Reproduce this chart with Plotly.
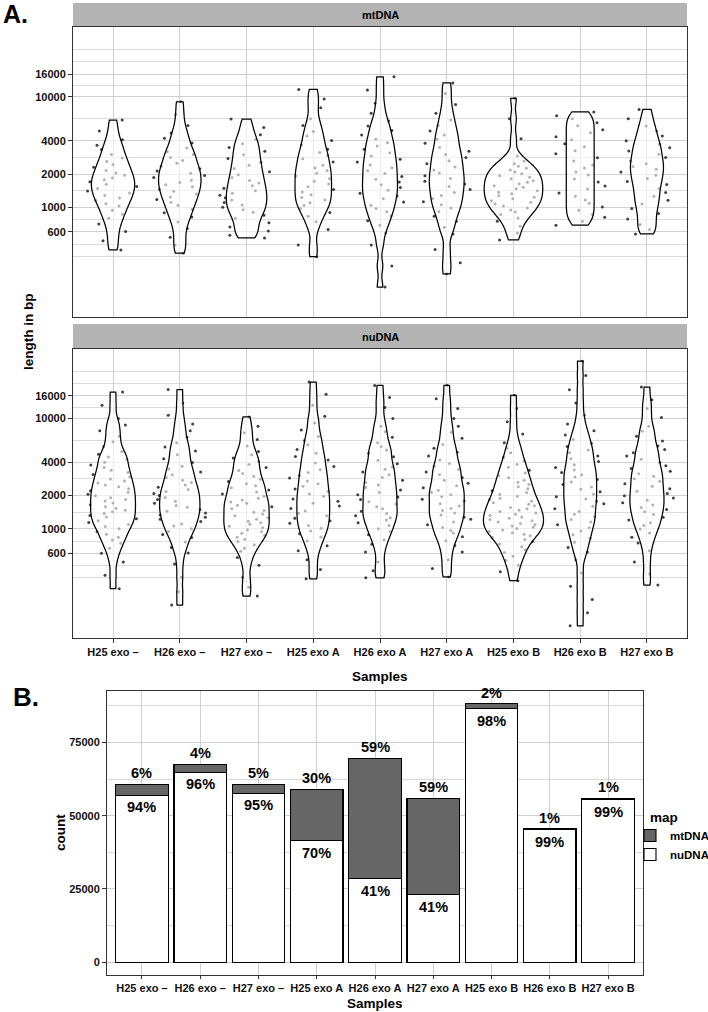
import numpy as np
import plotly.graph_objects as go

W, H = 708, 1012
FONT = "Liberation Sans, Arial, Helvetica, sans-serif"

samples = ["H25 exo –", "H26 exo –", "H27 exo –", "H25 exo A", "H26 exo A",
           "H27 exo A", "H25 exo B", "H26 exo B", "H27 exo B"]

# ---- fragment lengths, log10(bp) (mtDNA panel) ----
mt_H25_minus = [3.789, 3.69, 3.612, 3.561, 3.523, 3.478, 3.446, 3.414, 3.388, 3.362, 3.334, 3.31, 3.291,
                3.268, 3.249, 3.231, 3.209, 3.19, 3.172, 3.149, 3.131, 3.108, 3.086, 3.062, 3.034, 3.012,
                2.974, 2.938, 2.902, 2.851, 2.782, 2.70, 2.616]
mt_H26_minus = [3.954, 3.84, 3.74, 3.672, 3.624, 3.581, 3.536, 3.503, 3.478, 3.452, 3.424, 3.398, 3.371,
                3.349, 3.328, 3.309, 3.288, 3.27, 3.246, 3.226, 3.204, 3.186, 3.165, 3.146, 3.121, 3.094,
                3.071, 3.046, 3.019, 2.984, 2.951, 2.914, 2.868, 2.81, 2.73, 2.66, 2.588]
mt_H27_minus = [3.798, 3.722, 3.656, 3.614, 3.576, 3.541, 3.508, 3.476, 3.441, 3.409, 3.382, 3.351, 3.322,
                3.296, 3.271, 3.244, 3.221, 3.196, 3.174, 3.151, 3.129, 3.109, 3.088, 3.066, 3.044, 3.021,
                3.001, 2.979, 2.956, 2.929, 2.902, 2.861, 2.823, 2.786, 2.748, 2.724]
mt_H25_A = [4.066, 3.98, 3.90, 3.80, 3.74, 3.685, 3.645, 3.605, 3.565, 3.525, 3.497, 3.468, 3.44, 3.41,
            3.382, 3.357, 3.333, 3.308, 3.284, 3.26, 3.236, 3.211, 3.187, 3.163, 3.139, 3.114, 3.09,
            3.066, 3.042, 3.018, 2.99, 2.955, 2.92, 2.87, 2.80, 2.66, 2.555]
mt_H26_A = [4.18, 4.06, 3.94, 3.85, 3.78, 3.735, 3.695, 3.655, 3.615, 3.585, 3.555, 3.525, 3.495, 3.465,
            3.435, 3.41, 3.384, 3.358, 3.332, 3.306, 3.28, 3.254, 3.229, 3.204, 3.179, 3.154, 3.129,
            3.104, 3.078, 3.05, 3.02, 2.99, 2.96, 2.925, 2.88, 2.84, 2.77, 2.66, 2.47, 2.28]
mt_H27_A = [4.125, 4.03, 3.93, 3.85, 3.79, 3.74, 3.69, 3.655, 3.617, 3.58, 3.542, 3.508, 3.479, 3.45,
            3.422, 3.394, 3.366, 3.338, 3.312, 3.287, 3.262, 3.237, 3.212, 3.188, 3.162, 3.135, 3.108,
            3.08, 3.052, 3.024, 2.995, 2.96, 2.92, 2.875, 2.82, 2.76, 2.62, 2.50, 2.40]
mt_H25_B = [3.985, 3.80, 3.62, 3.465, 3.42, 3.395, 3.372, 3.355, 3.338, 3.321, 3.304, 3.287, 3.272,
            3.258, 3.241, 3.227, 3.213, 3.196, 3.182, 3.168, 3.151, 3.137, 3.123, 3.106, 3.092, 3.078,
            3.061, 3.047, 3.03, 3.013, 2.995, 2.977, 2.959, 2.935, 2.905, 2.875, 2.83, 2.77, 2.706]
mt_H26_B = [3.863, 3.829, 3.801, 3.766, 3.738, 3.702, 3.674, 3.639, 3.611, 3.575, 3.547, 3.511, 3.484,
            3.448, 3.42, 3.384, 3.357, 3.321, 3.293, 3.257, 3.229, 3.193, 3.166, 3.13, 3.102, 3.066,
            3.038, 3.003, 2.975, 2.939, 2.911, 2.875, 2.84]
mt_H27_B = [3.885, 3.80, 3.735, 3.69, 3.645, 3.603, 3.57, 3.54, 3.51, 3.48, 3.45, 3.42, 3.395, 3.37,
            3.345, 3.32, 3.29, 3.262, 3.234, 3.206, 3.17, 3.135, 3.10, 3.065, 3.03, 2.99, 2.945, 2.895,
            2.845, 2.80, 2.76]

# ---- fragment lengths, log10(bp) (nuDNA panel) ----
nu_H25_minus = [4.24, 4.12, 4.00, 3.94, 3.89, 3.84, 3.79, 3.745, 3.70, 3.675, 3.652, 3.628, 3.604, 3.579,
                3.556, 3.531, 3.511, 3.492, 3.471, 3.452, 3.434, 3.415, 3.396, 3.381, 3.364, 3.346, 3.331,
                3.314, 3.299, 3.281, 3.266, 3.251, 3.234, 3.219, 3.201, 3.186, 3.169, 3.154, 3.139, 3.121,
                3.106, 3.091, 3.072, 3.056, 3.039, 3.021, 3.001, 2.976, 2.951, 2.924, 2.899, 2.868, 2.824,
                2.779, 2.70, 2.58, 2.457]
nu_H26_minus = [4.262, 4.14, 4.03, 3.95, 3.89, 3.83, 3.78, 3.741, 3.706, 3.671, 3.634, 3.601, 3.566, 3.541,
                3.516, 3.489, 3.466, 3.441, 3.419, 3.396, 3.376, 3.356, 3.339, 3.321, 3.301, 3.284, 3.266,
                3.249, 3.231, 3.211, 3.196, 3.176, 3.159, 3.144, 3.126, 3.104, 3.086, 3.066, 3.044, 3.026,
                3.001, 2.976, 2.949, 2.921, 2.881, 2.831, 2.781, 2.68, 2.56, 2.43, 2.309]
nu_H27_minus = [4.014, 3.93, 3.87, 3.81, 3.75, 3.70, 3.672, 3.641, 3.609, 3.584, 3.556, 3.529, 3.501,
                3.476, 3.449, 3.429, 3.409, 3.391, 3.371, 3.351, 3.334, 3.316, 3.294, 3.276, 3.261, 3.244,
                3.231, 3.214, 3.199, 3.181, 3.166, 3.151, 3.134, 3.119, 3.101, 3.086, 3.069, 3.054, 3.041,
                3.024, 3.009, 2.991, 2.974, 2.959, 2.941, 2.924, 2.906, 2.884, 2.856, 2.824, 2.796, 2.74,
                2.67, 2.56, 2.47, 2.39]
nu_H25_A = [4.33, 4.22, 4.12, 4.02, 3.96, 3.895, 3.84, 3.80, 3.761, 3.72, 3.686, 3.655, 3.624, 3.596,
            3.564, 3.536, 3.511, 3.484, 3.461, 3.434, 3.409, 3.386, 3.361, 3.339, 3.316, 3.294, 3.271,
            3.249, 3.231, 3.206, 3.184, 3.161, 3.141, 3.119, 3.096, 3.074, 3.051, 3.031, 3.004, 2.979,
            2.954, 2.926, 2.889, 2.846, 2.801, 2.72, 2.63, 2.547]
nu_H26_A = [4.30, 4.19, 4.10, 4.00, 3.93, 3.88, 3.83, 3.78, 3.745, 3.714, 3.686, 3.654, 3.621, 3.589,
            3.561, 3.539, 3.516, 3.491, 3.466, 3.441, 3.419, 3.396, 3.374, 3.351, 3.329, 3.309, 3.289,
            3.266, 3.246, 3.224, 3.201, 3.181, 3.159, 3.139, 3.119, 3.101, 3.079, 3.054, 3.029, 3.001,
            2.974, 2.946, 2.901, 2.859, 2.79, 2.70, 2.62, 2.556]
nu_H27_A = [4.30, 4.18, 4.09, 4.00, 3.93, 3.875, 3.82, 3.765, 3.731, 3.694, 3.661, 3.624, 3.591, 3.566,
            3.539, 3.516, 3.489, 3.466, 3.441, 3.414, 3.391, 3.371, 3.349, 3.331, 3.309, 3.291, 3.269,
            3.251, 3.226, 3.206, 3.184, 3.166, 3.144, 3.126, 3.104, 3.086, 3.061, 3.036, 3.011, 2.984,
            2.961, 2.929, 2.891, 2.849, 2.79, 2.72, 2.64, 2.565]
nu_H25_B = [4.21, 4.09, 3.97, 3.86, 3.78, 3.73, 3.69, 3.648, 3.614, 3.586, 3.559, 3.531, 3.506, 3.484,
            3.462, 3.441, 3.421, 3.401, 3.381, 3.363, 3.346, 3.329, 3.311, 3.294, 3.278, 3.263, 3.249,
            3.236, 3.222, 3.208, 3.194, 3.181, 3.168, 3.156, 3.144, 3.132, 3.12, 3.108, 3.096, 3.085,
            3.073, 3.061, 3.049, 3.038, 3.026, 3.014, 3.002, 2.99, 2.978, 2.965, 2.951, 2.936, 2.92,
            2.903, 2.884, 2.862, 2.838, 2.811, 2.784, 2.752, 2.715, 2.67, 2.61, 2.53]
nu_H26_B = [4.52, 4.39, 4.26, 4.14, 4.03, 3.95, 3.89, 3.85, 3.81, 3.775, 3.745, 3.715, 3.689, 3.661,
            3.634, 3.609, 3.581, 3.556, 3.534, 3.511, 3.489, 3.469, 3.446, 3.424, 3.401, 3.379, 3.359,
            3.336, 3.314, 3.291, 3.271, 3.249, 3.226, 3.204, 3.181, 3.156, 3.131, 3.109, 3.084, 3.061,
            3.036, 3.009, 2.979, 2.946, 2.914, 2.879, 2.831, 2.789, 2.72, 2.60, 2.48, 2.36, 2.24, 2.12]
nu_H27_B = [4.285, 4.17, 4.09, 4.01, 3.93, 3.885, 3.84, 3.795, 3.75, 3.72, 3.69, 3.66, 3.63, 3.60, 3.571,
            3.546, 3.521, 3.499, 3.476, 3.454, 3.431, 3.409, 3.386, 3.364, 3.341, 3.321, 3.299, 3.279,
            3.259, 3.236, 3.216, 3.194, 3.174, 3.154, 3.129, 3.104, 3.079, 3.054, 3.029, 2.999, 2.961,
            2.924, 2.871, 2.80, 2.70, 2.59, 2.49]

# ---- read counts per sample (panel B) ----
nu_counts = [57060, 64800, 57700, 41400, 28500, 23000, 86500, 45150, 55450]
mt_counts = [3640, 2700, 3000, 17700, 41100, 32900, 1800, 450, 550]

y_ticks_bp = [600, 1000, 2000, 4000, 10000, 16000]
count_ticks = [0, 25000, 50000, 75000]

mt_groups = [mt_H25_minus, mt_H26_minus, mt_H27_minus, mt_H25_A, mt_H26_A, mt_H27_A,
             mt_H25_B, mt_H26_B, mt_H27_B]
nu_groups = [nu_H25_minus, nu_H26_minus, nu_H27_minus, nu_H25_A, nu_H26_A, nu_H27_A,
             nu_H25_B, nu_H26_B, nu_H27_B]

# ---------------- styling ----------------
def fx(p):
    return p / W

def fy(p):
    return 1 - p / H

BORDER = "#333333"
GRID = "#cfcfcf"
GRID_MINOR = "#dadada"
STRIP = "#b3b3b3"
MT_FILL = "#666666"
BANDWIDTH = {"mt": 0.065, "nu": 0.058}

TICKFONT = dict(family=FONT, size=11, color="#111111", weight="bold")
TITLEFONT = dict(family=FONT, size=13.5, color="#000000", weight="bold")

fig = go.Figure()


def long_form(groups):
    xs, ys = [], []
    for s, vals in zip(samples, groups):
        xs.extend([s] * len(vals))
        ys.extend(vals)
    return xs, ys


for panel, groups, xa, ya in [("mt", mt_groups, "x", "y"), ("nu", nu_groups, "x2", "y2")]:
    xs, ys = long_form(groups)
    bw = BANDWIDTH[panel]
    # jittered points (drawn first, underneath the translucent violins)
    fig.add_trace(go.Violin(
        x=xs, y=ys, xaxis=xa, yaxis=ya, points="all", pointpos=0, jitter=0.9,
        spanmode="hard", bandwidth=bw, scalegroup=panel + "_pts",
        line=dict(color="rgba(0,0,0,0)", width=0), fillcolor="rgba(0,0,0,0)",
        marker=dict(size=3.0, color="#404040"), showlegend=False, hoverinfo="skip"))
    # violin outlines
    fig.add_trace(go.Violin(
        x=xs, y=ys, xaxis=xa, yaxis=ya, points=False, spanmode="hard", bandwidth=bw,
        scalegroup=panel, scalemode="count", line=dict(color="black", width=1.25),
        fillcolor="rgba(255,255,255,0.6)", showlegend=False, hoverinfo="skip"))

# stacked bars
fig.add_trace(go.Bar(x=samples, y=nu_counts, name="nuDNA", xaxis="x3", yaxis="y3",
                     marker=dict(color="white", line=dict(color="black", width=1.1))))
fig.add_trace(go.Bar(x=samples, y=mt_counts, name="mtDNA", xaxis="x3", yaxis="y3",
                     marker=dict(color=MT_FILL, line=dict(color="black", width=1.1))))

# log-scale breaks (ggplot style minor breaks)
log_ticks = np.log10(y_ticks_bp)
bd = log_ticks[1] - log_ticks[0]
ext = np.r_[log_ticks[0] - bd, log_ticks, log_ticks[-1] + bd]
minor_vals = np.r_[ext[0], (ext[:-1] + ext[1:]) / 2, ext[-1]]

common_x = dict(type="category", categoryorder="array", categoryarray=samples, range=[-0.6, 8.6],
                showgrid=True, gridcolor=GRID, gridwidth=1, zeroline=False, showline=True, mirror=True,
                linecolor=BORDER, linewidth=1, tickfont=TICKFONT, tickcolor=BORDER, ticklen=4)

common_ylog = dict(range=[2.01, 4.63], tickmode="array", tickvals=log_ticks,
                   ticktext=[str(v) for v in y_ticks_bp], showgrid=True, gridcolor=GRID, gridwidth=1,
                   zeroline=False, showline=True, mirror=True, linecolor=BORDER, linewidth=1,
                   ticks="outside", ticklen=4, tickcolor=BORDER, tickfont=TICKFONT,
                   minor=dict(tickmode="array", tickvals=list(minor_vals), showgrid=True,
                              gridcolor=GRID_MINOR, gridwidth=1, ticks=""))

count_minor = [(a + b) / 2 for a, b in zip(count_ticks[:-1], count_ticks[1:])] + [count_ticks[-1] + 12500]

fig.update_layout(
    width=W, height=H, margin=dict(l=0, r=0, t=0, b=0, pad=0, autoexpand=False),
    paper_bgcolor="white", plot_bgcolor="white",
    font=dict(family=FONT, color="#000000"),
    violinmode="overlay", violingap=0.1, violingroupgap=0,
    barmode="stack", bargap=0.1,
    xaxis=dict(common_x, domain=[fx(73), fx(687)], anchor="y", showticklabels=False, ticks=""),
    yaxis=dict(common_ylog, domain=[fy(317), fy(27)], anchor="x"),
    xaxis2=dict(common_x, domain=[fx(73), fx(687)], anchor="y2", ticks="outside"),
    yaxis2=dict(common_ylog, domain=[fy(638), fy(349)], anchor="x2"),
    xaxis3=dict(common_x, domain=[fx(107), fx(643)], anchor="y3", ticks="outside", ticklen=3),
    yaxis3=dict(domain=[fy(975), fy(691)], anchor="x3", range=[-4400, 92600],
                tickmode="array", tickvals=count_ticks, ticktext=[str(v) for v in count_ticks],
                showgrid=True, gridcolor=GRID, gridwidth=1, zeroline=False, showline=True, mirror=True,
                linecolor=BORDER, linewidth=1, ticks="outside", ticklen=4, tickcolor=BORDER,
                tickfont=TICKFONT,
                minor=dict(tickmode="array", tickvals=count_minor, showgrid=True,
                           gridcolor=GRID_MINOR, gridwidth=1, ticks="")),
    legend=dict(x=fx(630), y=fy(821), xanchor="left", yanchor="top", traceorder="reversed",
                font=dict(family=FONT, size=11.5, color="#000000", weight="bold"),
                bgcolor="rgba(0,0,0,0)", itemwidth=30, tracegroupgap=0),
)

shapes = [
    dict(type="rect", xref="paper", yref="paper", x0=fx(73), x1=fx(687), y0=fy(26.5), y1=fy(3),
         fillcolor=STRIP, line=dict(width=0), layer="below"),
    dict(type="rect", xref="paper", yref="paper", x0=fx(73), x1=fx(687), y0=fy(348.5), y1=fy(324),
         fillcolor=STRIP, line=dict(width=0), layer="below"),
]
fig.update_layout(shapes=shapes)


def label(text, px, py, font, angle=0, xanchor="center"):
    return dict(text=text, x=fx(px), y=fy(py), xref="paper", yref="paper", xanchor=xanchor,
                yanchor="middle", showarrow=False, textangle=angle, font=font)


STRIPFONT = dict(family=FONT, size=11, color="black", weight="bold")
ann = [
    label("A.", 1, 14, dict(family=FONT, size=25, color="black", weight="bold"), xanchor="left"),
    label("B.", 11, 697, dict(family=FONT, size=26, color="black", weight="bold"), xanchor="left"),
    label("mtDNA", 380, 15, STRIPFONT),
    label("nuDNA", 380, 336.5, STRIPFONT),
    label("length in bp", 28, 332, TITLEFONT, angle=-90),
    label("Samples", 380, 676, TITLEFONT),
    label("count", 60, 833, TITLEFONT, angle=-90),
    label("Samples", 375, 1003, TITLEFONT),
    label("map", 648, 817, TITLEFONT, xanchor="left"),
]

PCTFONT = dict(family=FONT, size=14.5, color="black", weight="bold")
for s, n, m in zip(samples, nu_counts, mt_counts):
    t = n + m
    ann.append(dict(x=s, y=t, xref="x3", yref="y3", text=f"{round(100 * m / t)}%", showarrow=False,
                    yshift=11, font=PCTFONT))
    ann.append(dict(x=s, y=n, xref="x3", yref="y3", text=f"{round(100 * n / t)}%", showarrow=False,
                    yshift=-12, font=PCTFONT))

fig.update_layout(annotations=ann)

# the page body has a default 8px margin; remove it so the figure sits at the window origin
fig.write_html(
    "out.html",
    config={"displayModeBar": False},
    post_script="document.body.style.margin='0';document.body.style.padding='0';"
                "document.documentElement.style.margin='0';",
)
